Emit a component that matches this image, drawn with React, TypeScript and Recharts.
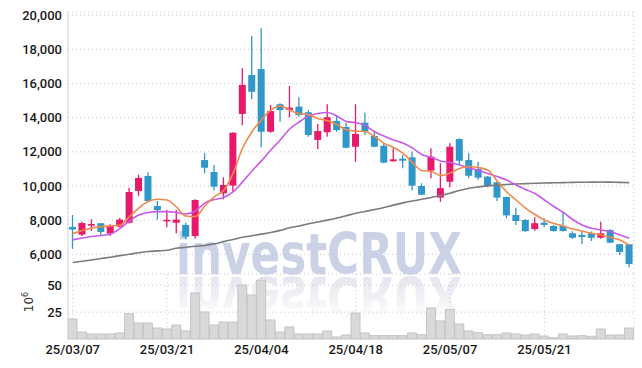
import React from 'react';
import { ComposedChart, BarChart, Bar, Line, XAxis, YAxis, CartesianGrid } from 'recharts';

const dates = [
  '25/03/07', '25/03/10', '25/03/11', '25/03/12', '25/03/13', '25/03/14', '25/03/17', '25/03/18', '25/03/19', '25/03/20',
  '25/03/21', '25/03/24', '25/03/25', '25/03/26', '25/03/27', '25/03/28', '25/03/31', '25/04/01', '25/04/02', '25/04/03',
  '25/04/04', '25/04/07', '25/04/08', '25/04/09', '25/04/10', '25/04/11', '25/04/14', '25/04/15', '25/04/16', '25/04/17',
  '25/04/18', '25/04/21', '25/04/22', '25/04/23', '25/04/24', '25/04/25', '25/04/28', '25/04/29', '25/04/30', '25/05/02',
  '25/05/07', '25/05/08', '25/05/09', '25/05/12', '25/05/13', '25/05/14', '25/05/15', '25/05/16', '25/05/19', '25/05/20',
  '25/05/21', '25/05/22', '25/05/23', '25/05/26', '25/05/27', '25/05/28', '25/05/29', '25/05/30', '25/06/02', '25/06/04',
];
const dateTicks = ['25/03/07', '25/03/21', '25/04/04', '25/04/18', '25/05/07', '25/05/21'];

const opens = [
  7600, 7150, 7680, 7820, 7210, 7620, 7850, 9710, 10590, 8830,
  7930, 7850, 7720, 7070, 11520, 10820, 9570, 10020, 14220, 16500,
  16850, 13180, 14790, 14450, 14650, 14320, 12700, 13150, 13810, 13460,
  12300, 13710, 12930, 12360, 11450, 11600, 11680, 10000, 10900, 9320,
  10250, 12750, 11520, 11000, 10550, 10220, 9360, 8300, 8010, 7480,
  7850, 7660, 7660, 7230, 7130, 7230, 6970, 7420, 6590, 6590,
];
const highs = [
  8300, 7910, 8050, 7830, 7760, 8120, 9900, 10660, 10800, 9120,
  8600, 8600, 7850, 9220, 11920, 11230, 10510, 13150, 16900, 18790,
  19240, 14750, 14850, 15860, 15200, 14450, 13630, 14790, 14100, 13710,
  14790, 14290, 13220, 12500, 12210, 11820, 12010, 10160, 12210, 11330,
  12500, 12800, 11920, 11420, 10590, 10250, 9370, 8730, 8050, 8170,
  8110, 7720, 8500, 7350, 7330, 7330, 7910, 7460, 6600, 6600,
];
const lows = [
  6320, 7070, 7370, 7070, 7070, 7580, 7810, 9420, 9120, 8030,
  7580, 7230, 6880, 6910, 10740, 9730, 9220, 9670, 13560, 15080,
  12270, 13120, 13770, 14030, 14060, 12890, 12150, 12890, 13180, 12210,
  11420, 12990, 12270, 11330, 11420, 11040, 9730, 9470, 10450, 9080,
  9920, 11230, 10450, 10350, 9920, 9120, 8110, 7720, 7310, 7380,
  7580, 7330, 7330, 6910, 6600, 6780, 6910, 6640, 5960, 5240,
];
const closes = [
  7450, 7830, 7770, 7310, 7660, 8030, 9650, 10470, 9120, 8590,
  8020, 8030, 7030, 9180, 11070, 9960, 10060, 13120, 15920, 15520,
  13180, 14390, 14450, 14590, 14160, 12990, 13220, 14030, 13280, 12240,
  13050, 13180, 12300, 11370, 11560, 11480, 10020, 9490, 11720, 9870,
  12300, 11480, 10600, 10490, 10000, 9320, 8280, 7950, 7360, 7820,
  7720, 7360, 7360, 6970, 7010, 6970, 7230, 6680, 6130, 5430,
];
// volume in millions of shares
const volumes = [
  18.6, 6.5, 4.7, 4.7, 4.7, 5.6, 23.6, 14.9, 14.9, 10.2,
  9.3, 13, 7.5, 42.9, 25.2, 13, 15.8, 15.8, 50.3, 41,
  54.7, 17.7, 6.5, 11.2, 4.7, 4.7, 4.7, 7.5, 1.9, 3.7,
  24.2, 5.6, 3.1, 3.1, 3.1, 3.1, 5.6, 4, 28.9, 16.8,
  27.6, 14, 7.5, 5.9, 4, 4, 5.6, 4.7, 3.7, 4.7,
  2.8, 1.2, 4.7, 2.8, 3.1, 2.5, 9.3, 3.7, 3.7, 10.2,
];
const maShort = [
  7210, 7390, 7540, 7620, 7660, 7700, 8190, 8710, 9090, 9220,
  9180, 8770, 8240, 8210, 8830, 9370, 9730, 10740, 12210, 13180,
  13870, 14450, 14690, 14450, 14250, 14190, 13950, 13830, 13600, 13300,
  13220, 13190, 12900, 12500, 12260, 11930, 11380, 10910, 10850, 10620,
  10760, 11030, 11140, 11080, 10940, 10290, 9650, 9180, 8710, 8330,
  8010, 7800, 7660, 7480, 7360, 7230, 7130, 6980, 6840, 6540,
];
const maMid = [
  6850, 6950, 7040, 7100, 7190, 7500, 7950, 8300, 8450, 8500,
  8500, 8450, 8360, 8540, 9000, 9210, 9330, 9650, 10240, 10880,
  11470, 12110, 12700, 13340, 13750, 14100, 14250, 14310, 14100, 13780,
  13710, 13550, 13180, 12930, 12700, 12520, 12230, 11850, 11670, 11470,
  11380, 11230, 11060, 10910, 10730, 10550, 10350, 10060, 9800, 9560,
  9180, 8800, 8450, 8040, 7720, 7520, 7420, 7320, 7130, 6940,
];
const maLong = [
  5515, 5590, 5670, 5750, 5830, 5920, 6000, 6090, 6160, 6200,
  6240, 6355, 6410, 6470, 6520, 6610, 6740, 6870, 7000, 7090,
  7180, 7280, 7400, 7550, 7660, 7790, 7890, 8000, 8120, 8260,
  8400, 8510, 8620, 8740, 8880, 9010, 9120, 9220, 9330, 9440,
  9580, 9740, 9870, 9950, 10010, 10050, 10090, 10120, 10140, 10160,
  10175, 10190, 10200, 10210, 10220, 10225, 10230, 10225, 10210, 10200,
];

const priceTicks = [6000, 8000, 10000, 12000, 14000, 16000, 18000, 20000];
const volumeTicks = [25, 50];

const data = dates.map((date, i) => ({
  date,
  o: opens[i],
  h: highs[i],
  l: lows[i],
  c: closes[i],
  range: [lows[i], highs[i]],
  v: volumes[i],
  maShort: maShort[i],
  maMid: maMid[i],
  maLong: maLong[i],
}));

const UP = '#e8196a';
const DOWN = '#2f97c9';
const GRID = '#c2c6da';
const TICK = { fill: '#1a1a1a', fontSize: 13, fontWeight: 500, fontFamily: 'Roboto, sans-serif' };

function Candle(props: any) {
  const { x, y, width, height, index } = props;
  const p = props.payload && props.payload.o !== undefined ? props.payload : data[index];
  const { o, h, l, c } = p;
  const top0 = Math.min(y, y + height);
  const H = Math.abs(height);
  const k = H / Math.max(h - l, 1);
  const cx = x + width / 2;
  const bTop = top0 + (h - Math.max(o, c)) * k;
  const bBot = top0 + (h - Math.min(o, c)) * k;
  const bh = Math.max(bBot - bTop, 1.6);
  const color = c >= o ? UP : DOWN;
  return (
    <g>
      <line x1={cx} x2={cx} y1={top0} y2={top0 + H} stroke={color} strokeWidth={1.3} />
      <rect x={x} y={bTop} width={width} height={bh} fill={color} />
    </g>
  );
}

const fmt = (v: number) => v.toLocaleString('en-US');

function VolLabel() {
  return (
    <text
      x={33}
      y={28}
      transform="rotate(-90, 33, 28)"
      textAnchor="middle"
      fill="#333"
      fontSize={12}
      fontFamily="DejaVu Sans, sans-serif"
    >
      10<tspan dy={-5} fontSize={8}>6</tspan>
    </text>
  );
}

export default function App() {
  return (
    <div style={{ position: 'absolute', left: 0, top: 0, width: 642, height: 368, background: '#fff' }}>
      <svg width={642} height={368} style={{ position: 'absolute', left: 0, top: 0 }}>
        <defs>
          <linearGradient id="refl" x1="0" y1="0" x2="0" y2="1">
            <stop offset="0" stopColor="#ffffff" stopOpacity={0} />
            <stop offset="0.45" stopColor="#e4e5ed" stopOpacity={0.5} />
            <stop offset="1" stopColor="#dedfe9" stopOpacity={1} />
          </linearGradient>
        </defs>
        <text
          x={176}
          y={273.5}
          fontFamily="DejaVu Sans, sans-serif"
          fontWeight="bold"
          fontSize={57}
          textLength={286}
          lengthAdjust="spacingAndGlyphs"
          fill="#ccd2e6"
        >
          investCRUX
        </text>
        <g transform="translate(0, 550) scale(1, -1)">
          <text
            x={176}
            y={273.5}
            fontFamily="DejaVu Sans, sans-serif"
            fontWeight="bold"
            fontSize={57}
            textLength={286}
            lengthAdjust="spacingAndGlyphs"
            fill="url(#refl)"
          >
            investCRUX
          </text>
        </g>
      </svg>
      <div style={{ position: 'absolute', left: 0, top: 0 }}>
        <ComposedChart width={642} height={274} data={data} margin={{ top: 12, right: 8, bottom: 0, left: 0 }}>
          <CartesianGrid stroke={GRID} strokeDasharray="1 3" />
          <XAxis dataKey="date" ticks={dateTicks} interval={0} height={0} tick={false} tickLine={false} axisLine={{ stroke: '#c8c8cc' }} />
          <XAxis xAxisId="top" orientation="top" dataKey="date" ticks={dateTicks} interval={0} height={0} tick={false} tickLine={false} axisLine={{ stroke: '#cfd2e0', strokeDasharray: '1 2' }} />
          <YAxis
            domain={[4845, 20193]}
            ticks={priceTicks}
            allowDataOverflow
            width={68}
            tickFormatter={fmt}
            tickLine={false}
            tickSize={4}
            tickMargin={2}
            axisLine={{ stroke: '#d6d8e2' }}
            tick={TICK}
          />
          <YAxis yAxisId="r" orientation="right" width={0} tick={false} tickLine={false} axisLine={{ stroke: '#d8d8d8' }} />
          <Bar dataKey="range" shape={<Candle />} barSize={7} isAnimationActive={false} />
          <Line dataKey="maLong" type="monotone" stroke="#7b7b7b" strokeWidth={1.6} dot={false} isAnimationActive={false} />
          <Line dataKey="maMid" type="monotone" stroke="#c75ae9" strokeWidth={1.6} dot={false} isAnimationActive={false} />
          <Line dataKey="maShort" type="monotone" stroke="#f08a4c" strokeWidth={1.6} dot={false} isAnimationActive={false} />
        </ComposedChart>
      </div>
      <div style={{ position: 'absolute', left: 0, top: 274 }}>
        <BarChart width={642} height={94} data={data} margin={{ top: 0, right: 8, bottom: 0, left: 0 }} barCategoryGap={0} barGap={0}>
          <CartesianGrid stroke={GRID} strokeDasharray="1 3" />
          <XAxis
            dataKey="date"
            ticks={dateTicks}
            interval={0}
            height={29}
            tickLine={false}
            tickSize={4}
            tickMargin={2}
            axisLine={{ stroke: '#c8c8cc' }}
            tick={TICK}
          />
          <YAxis
            domain={[0, 60.5]}
            ticks={volumeTicks}
            allowDataOverflow
            width={68}
            tickLine={false}
            tickSize={4}
            tickMargin={2}
            axisLine={{ stroke: '#d6d8e2' }}
            tick={TICK}
            label={<VolLabel />}
          />
          <YAxis yAxisId="r" orientation="right" width={0} tick={false} tickLine={false} axisLine={{ stroke: '#d8d8d8' }} />
          <Bar dataKey="v" fill="#d9d9d9" stroke="#c4c4c4" strokeWidth={1} isAnimationActive={false} />
        </BarChart>
      </div>
    </div>
  );
}
